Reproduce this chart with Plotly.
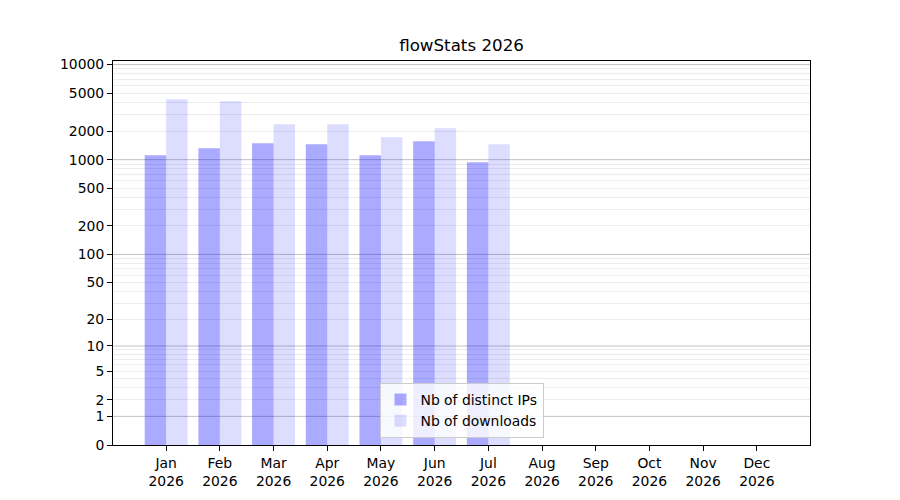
import numpy as np
import plotly.graph_objects as go

# monthly stats (Aug-Dec not reached yet)
months = ["Jan", "Feb", "Mar", "Apr", "May", "Jun", "Jul", "Aug", "Sep", "Oct", "Nov", "Dec"]
year = "2026"
distinct_ips = [1110, 1320, 1490, 1450, 1110, 1560, 940]
downloads = [4320, 4120, 2360, 2360, 1720, 2140, 1450]
ytick_values = [0, 1, 2, 5, 10, 20, 50, 100, 200, 500, 1000, 2000, 5000, 10000]


# symlog-ish scale: log10(1 + v)
def tr(v):
    return np.log10(1 + np.asarray(v, dtype=float))


font = "DejaVu Sans"
fs = 13.9
shift = 8  # page body margin in the browser

fig = go.Figure()
fig.add_trace(go.Bar(x=list(range(len(distinct_ips))), y=tr(distinct_ips), customdata=distinct_ips,
                     width=0.4, offset=-0.4, marker=dict(color="rgba(0,0,255,0.333)", line=dict(width=0)),
                     name="Nb of distinct IPs", hovertemplate="%{customdata}<extra></extra>"))
fig.add_trace(go.Bar(x=list(range(len(downloads))), y=tr(downloads), customdata=downloads,
                     width=0.4, offset=0, marker=dict(color="rgba(0,0,255,0.133)", line=dict(width=0)),
                     name="Nb of downloads", hovertemplate="%{customdata}<extra></extra>"))

# light lines at 2..9 x decade, darker at the decades
minor_vals = [k * 10 ** n for n in range(4) for k in range(2, 10)]
decades = [1, 10, 100, 1000, 10000]
for d in decades:
    fig.add_shape(type="line", xref="paper", x0=0, x1=1, yref="y", y0=float(tr(d)), y1=float(tr(d)),
                  line=dict(color="#c2c2c2", width=1), layer="below")

fig.update_layout(
    width=900, height=500,
    paper_bgcolor="white", plot_bgcolor="white",
    margin=dict(l=113 - shift, r=90 + shift, t=61 - shift, b=55 + shift),
    font=dict(family=font, size=fs, color="black"),
    title=dict(text="flowStats " + year, x=0.5, xanchor="center", xref="paper",
               y=1 - (45 - shift) / 500, yanchor="middle", font=dict(size=16.7, family=font)),
    barmode="overlay",
    showlegend=True,
    legend=dict(x=0.5, xanchor="center", y=0.018, yanchor="bottom",
                bgcolor="rgba(255,255,255,0.8)", bordercolor="#cccccc", borderwidth=1,
                font=dict(size=fs, family=font), tracegroupgap=0),
    xaxis=dict(range=[-0.99, 11.99], tickmode="array", tickvals=list(range(len(months))),
               ticktext=[m + "<br>" + year for m in months],
               showgrid=False, zeroline=False, showline=True, linecolor="black", linewidth=1,
               mirror=True, ticks="outside", ticklen=5, tickcolor="black", tickwidth=1),
    yaxis=dict(range=[0, 4.038], tickmode="array", tickvals=tr(ytick_values).tolist(),
               ticktext=[str(v) for v in ytick_values],
               showgrid=False, zeroline=False, showline=True, linecolor="black", linewidth=1,
               mirror=True, ticks="outside", ticklen=5, tickcolor="black", tickwidth=1,
               minor=dict(tickmode="array", tickvals=tr(minor_vals).tolist(), showgrid=True,
                          gridcolor="#ececec", gridwidth=1, ticks="")),
)

fig.write_html("out.html")
